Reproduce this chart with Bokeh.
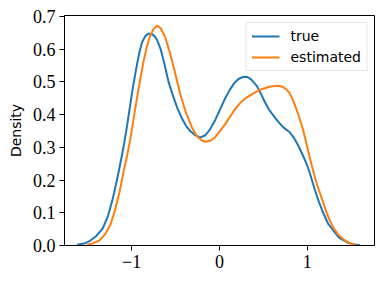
from bokeh.plotting import figure
from bokeh.models import Range1d, FixedTicker, PrintfTickFormatter
from bokeh.embed import file_html
from bokeh.resources import INLINE

# --- data ---
true_x = [-1.62, -1.54, -1.47, -1.40, -1.33, -1.27, -1.22, -1.17, -1.13, -1.09, -1.05, -1.015,
          -0.98, -0.94, -0.91, -0.882, -0.845, -0.807, -0.77, -0.74, -0.71, -0.67, -0.636, -0.58,
          -0.53, -0.48, -0.43, -0.38, -0.333, -0.28, -0.22, -0.16, -0.106, -0.05, 0.008,
          0.065, 0.122, 0.17, 0.216, 0.265, 0.311, 0.36, 0.425, 0.47, 0.519, 0.565, 0.614,
          0.67, 0.727, 0.80, 0.85, 0.898, 0.95, 0.993, 1.03, 1.08, 1.13, 1.18, 1.24, 1.30,
          1.36, 1.45, 1.52, 1.60]
true_y = [0.002, 0.006, 0.015, 0.030, 0.052, 0.090, 0.138, 0.197, 0.250, 0.305, 0.370, 0.433,
          0.493, 0.553, 0.592, 0.621, 0.640, 0.648, 0.646, 0.640, 0.628, 0.600, 0.565, 0.500,
          0.458, 0.420, 0.390, 0.365, 0.350, 0.338, 0.330, 0.337, 0.356, 0.383, 0.417,
          0.450, 0.478, 0.497, 0.509, 0.515, 0.516, 0.508, 0.488, 0.465, 0.437, 0.415, 0.397,
          0.378, 0.361, 0.346, 0.328, 0.305, 0.275, 0.249, 0.220, 0.175, 0.135, 0.100, 0.065, 0.045,
          0.024, 0.010, 0.004, 0.001]

est_x = [-1.51, -1.45, -1.37, -1.30, -1.24, -1.19, -1.14, -1.09, -1.05, -1.015, -0.98, -0.94,
         -0.90, -0.863, -0.825, -0.788, -0.75, -0.71, -0.67, -0.617, -0.56, -0.503, -0.447, -0.39,
         -0.314, -0.257, -0.20, -0.163, -0.10, -0.049, 0.00, 0.065, 0.12, 0.178, 0.24, 0.311,
         0.39, 0.463, 0.576, 0.67, 0.72, 0.766, 0.80, 0.84, 0.90, 0.955, 1.00, 1.05, 1.10,
         1.15, 1.20, 1.25, 1.30, 1.35, 1.41, 1.48, 1.56]
est_y = [0.002, 0.006, 0.015, 0.035, 0.065, 0.108, 0.162, 0.228, 0.278, 0.325, 0.385, 0.450,
         0.512, 0.565, 0.610, 0.641, 0.662, 0.672, 0.664, 0.636, 0.585, 0.524, 0.463, 0.412,
         0.361, 0.334, 0.321, 0.317, 0.321, 0.331, 0.348, 0.371, 0.394, 0.417, 0.437, 0.453,
         0.466, 0.476, 0.486, 0.488, 0.485, 0.476, 0.465, 0.443, 0.398, 0.351, 0.300, 0.245, 0.195,
         0.155, 0.115, 0.080, 0.053, 0.034, 0.019, 0.007, 0.001]

x_ticks = [-1, 0, 1]
x_tick_labels = {-1: "\u22121", 0: "0", 1: "1"}
y_ticks = [0.0, 0.1, 0.2, 0.3, 0.4, 0.5, 0.6, 0.7]

SERIF = "Liberation Serif"
SANS = "DejaVu Sans"

p = figure(width=376, height=278, output_backend="svg", toolbar_location=None,
           x_range=Range1d(-1.765, 1.765), y_range=Range1d(0, 0.703),
           min_border_left=64, min_border_right=2, min_border_top=15, min_border_bottom=33)

p.background_fill_color = "white"
p.border_fill_color = "white"
p.outline_line_color = "black"
p.outline_line_alpha = 1.0
p.outline_line_width = 1
p.grid.visible = False

p.line(true_x, true_y, line_color="#1f77b4", line_width=2, legend_label="true")
p.line(est_x, est_y, line_color="#ff7f0e", line_width=2, legend_label="estimated")

for ax in (p.xaxis[0], p.yaxis[0]):
    ax.axis_line_color = "black"
    ax.major_tick_line_color = "black"
    ax.major_tick_in = 0
    ax.major_tick_out = 5
    ax.minor_tick_line_color = None
    ax.major_label_text_font = SERIF
    ax.major_label_text_font_size = "18px"
    ax.major_label_text_color = "black"

p.xaxis.ticker = FixedTicker(ticks=x_ticks)
p.xaxis.major_label_overrides = x_tick_labels
p.xaxis.major_label_standoff = 4
p.yaxis.ticker = FixedTicker(ticks=y_ticks)
p.yaxis.formatter = PrintfTickFormatter(format="%.1f")
p.yaxis.major_label_standoff = 4
p.yaxis.axis_label = "Density"
p.yaxis.axis_label_text_font = SANS
p.yaxis.axis_label_text_font_size = "14px"
p.yaxis.axis_label_text_font_style = "normal"
p.yaxis.axis_label_text_color = "black"
p.yaxis.axis_label_standoff = 6

lg = p.legend[0]
lg.location = "top_right"
lg.margin = 7
lg.padding = 5
lg.spacing = 5
lg.glyph_width = 28
lg.glyph_height = 14
lg.label_height = 14
lg.label_standoff = 11
lg.label_text_font = SANS
lg.label_text_font_size = "14px"
lg.label_text_color = "black"
lg.border_line_color = "#cccccc"
lg.border_line_width = 1
lg.background_fill_color = "white"
lg.background_fill_alpha = 0.8

open("out.html", "w").write(file_html(p, INLINE))
